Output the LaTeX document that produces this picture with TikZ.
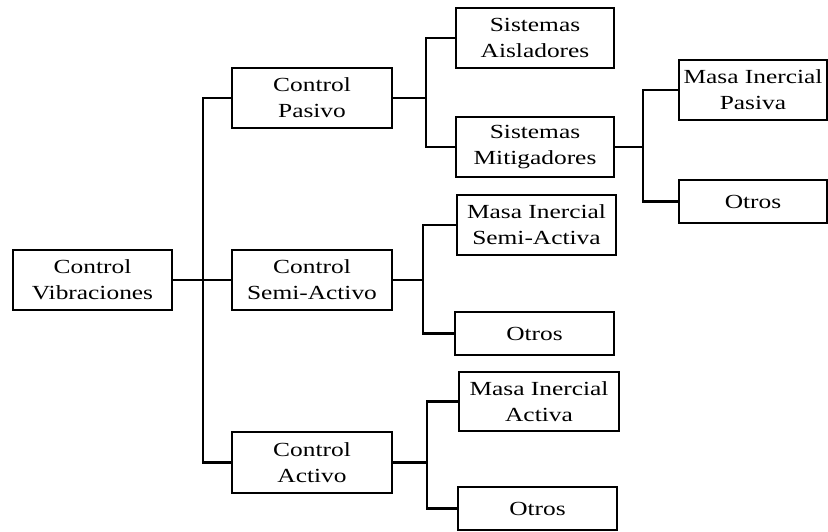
\documentclass[tikz,border=0pt]{standalone}
\usepackage{fontspec}
\setmainfont[FakeStretch=1.27]{Liberation Serif}
\begin{document}
\begin{tikzpicture}[x=1pt,y=1pt,
  box/.style={draw, line width=2.9pt, inner sep=0pt, align=center,
    minimum height=60pt, font=\fontsize{20}{26}\selectfont},
  wbox/.style={box, minimum width=159pt},
  sbox/.style={box, minimum width=159pt, minimum height=43pt},
  link/.style={line width=2.8pt}]
\useasboundingbox (0,0) rectangle (828,531);

% level 0
\node[wbox] (vib) at (92.5,251) {Control\\Vibraciones};
% level 1
\node[wbox, minimum width=160pt] (pas)  at (312,433)  {Control\\Pasivo};
\node[wbox, minimum width=160pt] (semi) at (312,251)  {Control\\Semi-Activo};
\node[wbox, minimum width=160pt, minimum height=61pt] (act) at (312,68.5) {Control\\Activo};
% level 2
\node[wbox, minimum width=158pt] (ais) at (535,493) {Sistemas\\Aisladores};
\node[wbox, minimum width=158pt] (mit) at (535,384) {Sistemas\\Mitigadores};
\node[wbox] (mis) at (536.5,306) {Masa Inercial\\Semi-Activa};
\node[sbox] (ot2) at (534.5,197.5) {Otros};
\node[wbox, minimum width=160pt, minimum height=59pt] (mia) at (539,129.5) {Masa Inercial\\Activa};
\node[sbox] (ot3) at (537.5,22.5) {Otros};
% level 3
\node[wbox, minimum width=148pt] (mip) at (753,441) {Masa Inercial\\Pasiva};
\node[sbox, minimum width=148pt] (ot1) at (753,329.5) {Otros};

% bracket junctions
\coordinate (tr) at (203,251);
\coordinate (j1) at (426,433);
\coordinate (j2) at (643,384);
\coordinate (j3) at (423,251);
\coordinate (j4) at (427,68.5);

% main trunk
\draw[link] (pas.west) -| (tr) |- (act.west);
\draw[link] (vib.east) -- (tr) -- (semi.west);
% passive branch
\draw[link] (ais.west) -| (j1) |- (mit.west);
\draw[link] (pas.east) -- (j1);
% mitigation branch
\draw[link] (mip.west) -| (j2) |- (ot1.west);
\draw[link] (mit.east) -- (j2);
% semi-active branch
\draw[link] (mis.west) -| (j3) |- (ot2.west);
\draw[link] (semi.east) -- (j3);
% active branch
\draw[link] (mia.west) -| (j4) |- (ot3.west);
\draw[link] (act.east) -- (j4);
\end{tikzpicture}
\end{document}
